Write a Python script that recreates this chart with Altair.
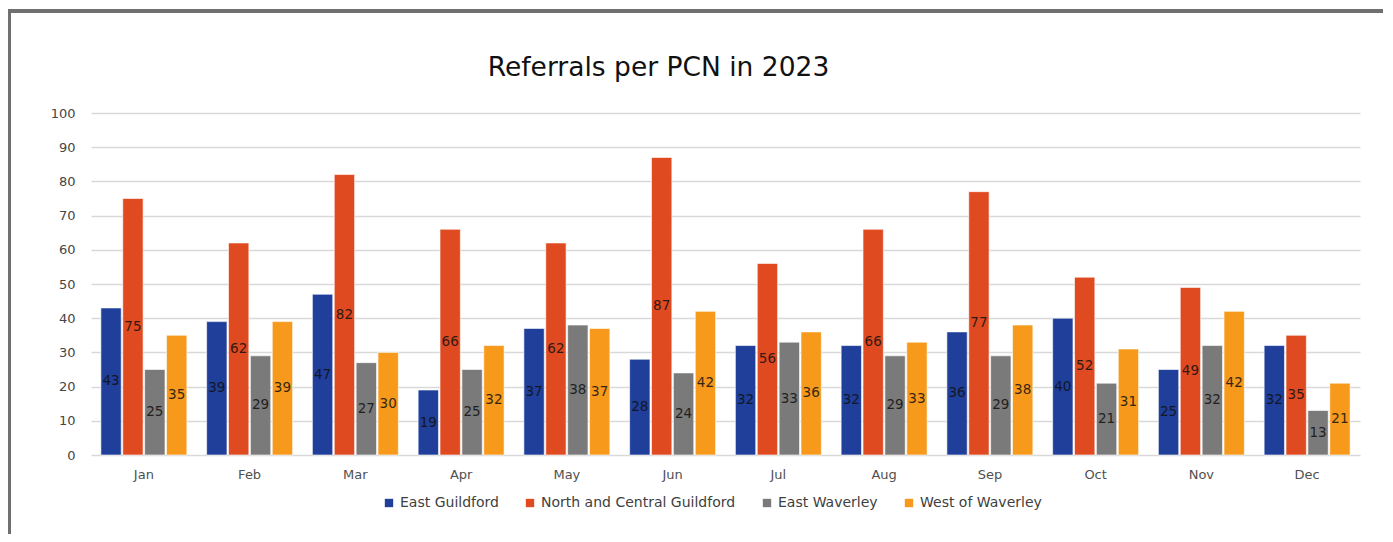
import altair as alt
import pandas as pd

months = ["Jan", "Feb", "Mar", "Apr", "May", "Jun", "Jul", "Aug", "Sep", "Oct", "Nov", "Dec"]
series = ["East Guildford", "North and Central Guildford", "East Waverley", "West of Waverley"]
east_guildford = [43, 39, 47, 19, 37, 28, 32, 32, 36, 40, 25, 32]
north_central_guildford = [75, 62, 82, 66, 62, 87, 56, 66, 77, 52, 49, 35]
east_waverley = [25, 29, 27, 25, 38, 24, 33, 29, 29, 21, 32, 13]
west_of_waverley = [35, 39, 30, 32, 37, 42, 36, 33, 38, 31, 42, 21]
colors = ["#1F3F9A", "#E04A21", "#7A7A7A", "#F79A1C"]
y_ticks = list(range(0, 101, 10))

rows = []
for name, vals in zip(series, [east_guildford, north_central_guildford, east_waverley, west_of_waverley]):
    for m, v in zip(months, vals):
        rows.append({"Month": m, "PCN": name, "Referrals": v, "Half": v / 2})
df = pd.DataFrame(rows)

W, H = 1269, 342
PL, PT, PR, PB = 83, 105, 23, 79

x = alt.X("Month:N", sort=months, title=None,
          scale=alt.Scale(paddingInner=0.187, paddingOuter=0.0935),
          axis=alt.Axis(labelAngle=0, ticks=False, domain=False, labelPadding=13,
                        labelFontSize=13, labelColor="#505050", labelFont="DejaVu Sans"))
xo = alt.XOffset("PCN:N", sort=series, scale=alt.Scale(paddingInner=0.07, paddingOuter=0))

y_axis = alt.Axis(values=y_ticks, ticks=False, domain=False, labelOverlap=False,
                  labelPadding=16, labelFontSize=13, labelColor="#454545",
                  labelFont="DejaVu Sans", gridColor="#D9D9D9", gridWidth=1.5)
y_scale = alt.Scale(domain=[0, 100], nice=False)

bars = alt.Chart(df).mark_bar(stroke="white", strokeWidth=0.6).encode(
    x=x,
    xOffset=xo,
    y=alt.Y("Referrals:Q", title=None, scale=y_scale, axis=y_axis),
    color=alt.Color("PCN:N", sort=series,
                    scale=alt.Scale(domain=series, range=colors),
                    legend=alt.Legend(title=None, orient="none", direction="horizontal",
                                      legendX=291, legendY=383, columns=4, labelLimit=400,
                                      symbolType="square", symbolSize=70, symbolStrokeWidth=0,
                                      labelFontSize=14, labelColor="#404040", labelFont="DejaVu Sans",
                                      columnPadding=24, labelOffset=4)),
)

labels = alt.Chart(df).mark_text(font="DejaVu Sans", fontSize=13.5, color="#111", opacity=0.85).encode(
    x=x,
    xOffset=xo,
    y=alt.Y("Half:Q", title=None, scale=y_scale, axis=y_axis),
    text=alt.Text("Referrals:Q"),
)

frame_left = alt.Chart(df).mark_rule(color="#707070", strokeWidth=3).encode(
    x=alt.value(-82.3), y=alt.value(-102), y2=alt.value(H + PB + 5))
frame_top = alt.Chart(df).mark_rule(color="#707070", strokeWidth=3).encode(
    x=alt.value(-83.5), x2=alt.value(W + PR + 5), y=alt.value(-102))

chart = alt.layer(frame_left, frame_top, bars, labels).properties(
    width=W, height=H,
    title=alt.TitleParams("Referrals per PCN in 2023", font="DejaVu Sans", fontSize=26.5,
                          fontWeight="normal", color="#111", anchor="middle", dx=-67, offset=-72),
    autosize=alt.AutoSizeParams(type="none"),
    padding={"left": PL, "top": PT, "right": PR, "bottom": PB},
).configure(background="white", view=alt.ViewConfig(strokeWidth=0))

chart.save("out.html", embed_options={"renderer": "svg", "actions": False})
